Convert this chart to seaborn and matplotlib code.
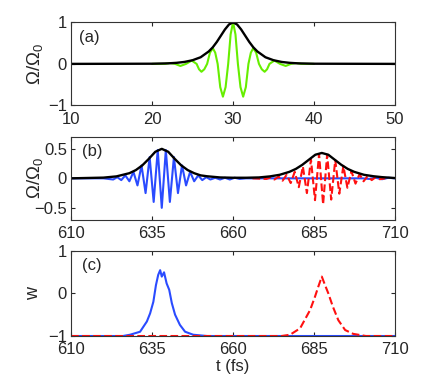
"""
Three stacked panels: a short pulse (a), two pulses at later time (b)
and the population inversion w (c).
"""

import matplotlib
matplotlib.use('Agg')
import matplotlib.pyplot as plt
import seaborn as sns

# ---- panel (a): field and its envelope ----
t_a_env = [10, 20, 22, 23, 24, 25, 26, 27, 27.5, 28, 28.5, 29, 29.5, 30,
           30.5, 31, 31.5, 32, 32.5, 33, 34, 35, 36, 37, 38, 40, 50]
env_a = [0, 0.004, 0.013, 0.025, 0.047, 0.088, 0.16, 0.30, 0.40, 0.53, 0.68, 0.83, 0.95, 1.0,
         0.95, 0.83, 0.68, 0.53, 0.40, 0.30, 0.16, 0.088, 0.047, 0.025, 0.013, 0.004, 0]

t_a_field = [20, 21.6, 22.2, 22.85, 23.5, 24.2, 24.9, 25.5, 25.8, 26.1, 26.45, 26.8,
             27.15, 27.5, 27.8, 28.1, 28.42, 28.75, 29.08, 29.4, 29.7, 30, 30.3, 30.6,
             30.92, 31.25, 31.58, 31.9, 32.2, 32.5, 32.85, 33.2, 33.55, 33.9, 34.2, 34.5,
             35.1, 35.8, 36.5, 37.15, 37.8, 38.4, 40]
field_a = [0, 0, 0.02, 0, -0.05, 0, 0.08, 0, -0.13, -0.19, -0.13, 0,
           0.27, 0.38, 0.27, 0, -0.56, -0.79, -0.56, 0, 0.71, 1.0, 0.71, 0,
           -0.56, -0.79, -0.56, 0, 0.27, 0.38, 0.27, 0, -0.13, -0.19, -0.13, 0,
           0.08, 0, -0.05, 0, 0.02, 0, 0]

# ---- panel (b): two pulses ----
t_b_env = [610, 620, 624, 628, 630, 632, 634, 636, 638, 640, 642, 644, 646, 648, 650,
           652, 656, 660, 664, 668, 671.4, 674.4, 677.4, 679.4, 681.4, 683.4, 685.4,
           687.4, 689.4, 691.4, 693.4, 695.4, 697.4, 700.4, 703.4, 706, 710]
env_b = [0, 0.012, 0.033, 0.087, 0.14, 0.22, 0.33, 0.45, 0.50, 0.45, 0.33, 0.22, 0.14,
         0.087, 0.05, 0.035, 0.015, 0.01, 0.01, 0.015, 0.033, 0.06, 0.11, 0.16, 0.23,
         0.315, 0.40, 0.43, 0.40, 0.315, 0.23, 0.16, 0.11, 0.06, 0.035, 0.02, 0.005]

t_blue_b = [610, 620, 623, 624.25, 625.5, 626.75, 628, 629.25, 630.5, 631.75, 633,
            634.25, 635.5, 636.75, 638, 639.25, 640.5, 641.75, 643, 644.25, 645.5,
            646.75, 648, 649.25, 650.5, 651.75, 653, 654.5, 656, 657.5, 659, 660.5,
            662, 664, 700, 702, 704, 706, 708, 710]
blue_b = [0, 0, -0.02, 0.02, -0.03, 0.05, -0.05, 0.11, -0.12, 0.22, -0.25,
          0.36, -0.40, 0.48, -0.50, 0.48, -0.40, 0.36, -0.25, 0.22, -0.12,
          0.11, -0.05, 0.05, -0.03, 0.02, -0.02, 0.01, -0.02, 0.01, -0.02, 0.01,
          -0.01, 0, 0, -0.01, 0.01, -0.015, 0.01, 0]

t_red_b = [666, 670.3, 671.55, 672.8, 674.05, 675.3, 676.55, 677.8, 679.05, 680.3,
           681.55, 682.8, 684.05, 685.3, 686.55, 687.8, 689.05, 690.3, 691.55, 692.8,
           694.05, 695.3, 696.55, 697.8, 699.05, 700.3, 701.55, 702.8, 704.05, 705.3, 707]
red_b = [0, -0.01, 0.015, -0.02, 0.03, -0.04, 0.06, -0.08, 0.11, -0.15,
         0.20, -0.25, 0.32, -0.37, 0.41, -0.44, 0.40, -0.36, 0.31, -0.26,
         0.21, -0.16, 0.12, -0.09, 0.07, -0.05, 0.04, -0.03, 0.02, -0.015, 0]

# ---- panel (c): inversion w ----
t_blue_c = [610, 626, 628.2, 631.3, 633.4, 634.4, 635.4, 636.2, 636.9, 637.5, 638.0,
            638.7, 639.5, 640.3, 641.1, 642.1, 643.6, 645.2, 647.7, 652, 710]
w_blue = [-1, -1, -0.97, -0.90, -0.66, -0.47, -0.20, 0.19, 0.43, 0.54, 0.39,
          0.49, 0.23, 0.08, -0.23, -0.50, -0.74, -0.90, -0.97, -1, -1]

t_red_c = [610, 675, 677.6, 680.7, 683.8, 685.3, 686.3, 687.4, 688.4, 689.4, 690.8,
           692.5, 694.6, 697.1, 701, 710]
w_red = [-1, -1, -0.97, -0.82, -0.39, -0.08, 0.15, 0.39, 0.19, 0.0, -0.31,
         -0.63, -0.86, -0.95, -1, -1]

GREEN = '#66ee00'
BLUE = '#2a4bff'
RED = '#ff1010'

sns.set_style('ticks')
plt.rcParams['font.family'] = ['Liberation Sans', 'DejaVu Sans']
plt.rcParams['mathtext.default'] = 'regular'
plt.rcParams['font.size'] = 12
plt.rcParams['xtick.direction'] = 'in'
plt.rcParams['ytick.direction'] = 'in'
plt.rcParams['xtick.top'] = True
plt.rcParams['ytick.right'] = True
plt.rcParams['xtick.major.size'] = 3
plt.rcParams['ytick.major.size'] = 3
plt.rcParams['axes.linewidth'] = 0.8
plt.rcParams['axes.edgecolor'] = '#333333'

fig = plt.figure(figsize=(4.36, 3.86), dpi=100)
ax_a = fig.add_axes([0.163, 0.727, 0.743, 0.215])
ax_b = fig.add_axes([0.163, 0.431, 0.743, 0.214])
ax_c = fig.add_axes([0.163, 0.1295, 0.743, 0.2215])

# (a)
sns.lineplot(x=t_a_field, y=field_a, ax=ax_a, color=GREEN, lw=1.5, sort=False)
sns.lineplot(x=t_a_env, y=env_a, ax=ax_a, color='black', lw=1.7, sort=False)
ax_a.set_xlim(10, 50)
ax_a.set_ylim(-1, 1)
ax_a.set_xticks([10, 20, 30, 40, 50])
ax_a.set_yticks([-1, 0, 1])
ax_a.set_ylabel('Ω/Ω$_0$', fontsize=13.5)
ax_a.yaxis.set_label_coords(-0.08, 0.5)
ax_a.text(0.025, 0.82, '(a)', transform=ax_a.transAxes, va='center')

# (b)
sns.lineplot(x=t_blue_b, y=blue_b, ax=ax_b, color=BLUE, lw=1.5, sort=False)
sns.lineplot(x=t_red_b, y=red_b, ax=ax_b, color=RED, lw=1.5, sort=False,
             linestyle='--', dashes=(3.5, 1.8))
sns.lineplot(x=t_b_env, y=env_b, ax=ax_b, color='black', lw=1.7, sort=False)
ax_b.set_xlim(610, 710)
ax_b.set_ylim(-0.7, 0.7)
ax_b.set_xticks([610, 635, 660, 685, 710])
ax_b.set_yticks([-0.5, 0, 0.5])
ax_b.set_yticklabels(['−0.5', '0', '0.5'])
ax_b.set_ylabel('Ω/Ω$_0$', fontsize=13.5)
ax_b.yaxis.set_label_coords(-0.08, 0.5)
ax_b.text(0.035, 0.82, '(b)', transform=ax_b.transAxes, va='center')

# (c)
sns.lineplot(x=t_blue_c, y=w_blue, ax=ax_c, color=BLUE, lw=1.5, sort=False)
sns.lineplot(x=t_red_c, y=w_red, ax=ax_c, color=RED, lw=1.5, sort=False,
             linestyle='--', dashes=(3.5, 1.8))
ax_c.set_xlim(610, 710)
ax_c.set_ylim(-1, 1)
ax_c.set_xticks([610, 635, 660, 685, 710])
ax_c.set_yticks([-1, 0, 1])
ax_c.set_ylabel('w', fontsize=13)
ax_c.yaxis.set_label_coords(-0.09, 0.5)
ax_c.set_xlabel('t (fs)', labelpad=1)
ax_c.text(0.035, 0.82, '(c)', transform=ax_c.transAxes, va='center')

for ax in (ax_a, ax_b, ax_c):
    ax.tick_params(axis='y', pad=3, labelsize=12)
    ax.tick_params(axis='x', pad=4.5, labelsize=12)

fig.savefig('out.png', dpi=100)
plt.close(fig)
